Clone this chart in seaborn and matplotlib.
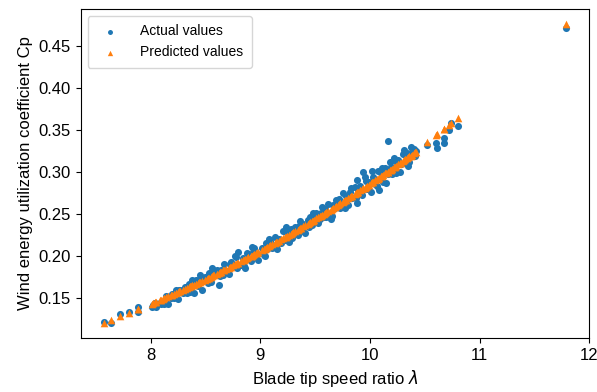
import matplotlib
matplotlib.use("Agg")
import matplotlib.pyplot as plt
import seaborn as sns
import pandas as pd

# Blade tip speed ratio (x) for every sample
lam = [
    7.57, 7.64, 7.72, 7.80, 7.88, 7.88,
    8.01, 8.02, 8.05, 8.08, 8.09,
    8.12, 8.14, 8.16, 8.18, 8.19,
    8.21, 8.23, 8.25, 8.27, 8.29,
    8.31, 8.33, 8.35, 8.37, 8.38, 8.39,
    8.41, 8.43, 8.45, 8.47, 8.49,
    8.51, 8.53, 8.55, 8.56, 8.58,
    8.60, 8.62, 8.64, 8.66, 8.67, 8.69,
    8.71, 8.73, 8.75, 8.77, 8.79,
    8.80, 8.82, 8.84, 8.86, 8.88, 8.89,
    8.91, 8.93, 8.94, 8.96, 8.98,
    9.01, 9.03, 9.05, 9.06, 9.08,
    9.11, 9.13, 9.15, 9.17, 9.19,
    9.21, 9.22, 9.24, 9.26, 9.28,
    9.30, 9.32, 9.34, 9.36, 9.37, 9.39,
    9.41, 9.43, 9.45, 9.47, 9.49,
    9.51, 9.53, 9.55, 9.56, 9.58,
    9.60, 9.62, 9.64, 9.66, 9.68, 9.69,
    9.71, 9.73, 9.75, 9.76, 9.78,
    9.80, 9.82, 9.84, 9.86, 9.88, 9.885, 9.89,
    9.91, 9.93, 9.94, 9.95, 9.97, 9.99,
    10.01, 10.03, 10.05, 10.07, 10.08,
    10.10, 10.12, 10.14, 10.16, 10.16, 10.18,
    10.20, 10.22, 10.24, 10.26, 10.28,
    10.30, 10.32, 10.34, 10.36, 10.38, 10.40, 10.42,
    8.04, 8.11, 8.26, 8.36, 8.44, 8.52, 8.57, 8.63, 8.72, 8.78,
    8.85, 8.92, 8.97, 9.04, 9.09, 9.14, 9.23, 9.29, 9.35, 9.44,
    9.48, 9.54, 9.59, 9.65, 9.72, 9.77, 9.83, 9.87, 9.96, 10.02,
    10.06, 10.11, 10.15, 10.19, 10.23, 10.27, 10.31, 10.35, 10.37, 10.41,
    10.52, 10.60, 10.61, 10.68, 10.68, 10.72, 10.74, 10.80,
    11.79,
]

# Actual wind energy utilization coefficient Cp
cp_actual = [
    0.1213, 0.1205, 0.1310, 0.1330, 0.1338, 0.1400,
    0.1396, 0.1421, 0.1398, 0.1445, 0.1430,
    0.1427, 0.1529, 0.1430, 0.1502, 0.1547,
    0.1499, 0.1591, 0.1493, 0.1595, 0.1556,
    0.1628, 0.1560, 0.1673, 0.1615, 0.1711, 0.1567,
    0.1719, 0.1642, 0.1774, 0.1596, 0.1749,
    0.1711, 0.1804, 0.1687, 0.1853, 0.1786,
    0.1829, 0.1652, 0.1835, 0.1779, 0.1905, 0.1818,
    0.1782, 0.1925, 0.1879, 0.2002, 0.1855,
    0.2052, 0.1896, 0.1980, 0.1863, 0.2037, 0.1964,
    0.1938, 0.2052, 0.2099, 0.2003, 0.1957,
    0.2098, 0.2013, 0.2158, 0.2085, 0.2209,
    0.2101, 0.2226, 0.2080, 0.2205, 0.2150,
    0.2295, 0.2192, 0.2277, 0.2173, 0.2328,
    0.2263, 0.2348, 0.2254, 0.2419, 0.2297, 0.2382,
    0.2278, 0.2424, 0.2470, 0.2365, 0.2451,
    0.2507, 0.2393, 0.2510, 0.2588, 0.2464,
    0.2470, 0.2616, 0.2443, 0.2609, 0.2566, 0.2664,
    0.2640, 0.2567, 0.2754, 0.2622, 0.2719,
    0.2606, 0.2763, 0.2690, 0.2827, 0.2634, 0.2905, 0.2783,
    0.2830, 0.2727, 0.3005, 0.2935, 0.2792, 0.2879,
    0.2767, 0.2945, 0.2853, 0.3010, 0.2789,
    0.2987, 0.2885, 0.3053, 0.2972, 0.3370, 0.3120,
    0.2978, 0.3166, 0.2984, 0.3142, 0.3091,
    0.3210, 0.3109, 0.3228, 0.3116, 0.3235, 0.3274, 0.3253,
    0.1442, 0.1442, 0.1599, 0.1569, 0.1718, 0.1678, 0.1830, 0.1769, 0.1908, 0.1989,
    0.1887, 0.2105, 0.2020, 0.2000, 0.2177, 0.2133, 0.2340, 0.2216, 0.2362, 0.2342,
    0.2513, 0.2441, 0.2562, 0.2481, 0.2679, 0.2571, 0.2812, 0.2696, 0.2893, 0.3006,
    0.2831, 0.3046, 0.2873, 0.3059, 0.3135, 0.3002, 0.3260, 0.3067, 0.3296, 0.3193,
    0.3320, 0.3340, 0.3290, 0.3347, 0.3400, 0.3498, 0.3577, 0.3545,
    0.4710,
]

# Predicted Cp
cp_pred = [
    0.1210, 0.1244, 0.1283, 0.1324, 0.1366, 0.1366,
    0.1436, 0.1441, 0.1458, 0.1475, 0.1480,
    0.1497, 0.1509, 0.1520, 0.1532, 0.1537,
    0.1549, 0.1561, 0.1573, 0.1585, 0.1596,
    0.1608, 0.1620, 0.1633, 0.1645, 0.1651, 0.1657,
    0.1669, 0.1682, 0.1694, 0.1706, 0.1719,
    0.1731, 0.1744, 0.1757, 0.1763, 0.1776,
    0.1789, 0.1802, 0.1815, 0.1829, 0.1835, 0.1848,
    0.1862, 0.1875, 0.1889, 0.1902, 0.1915,
    0.1922, 0.1936, 0.1950, 0.1963, 0.1977, 0.1984,
    0.1998, 0.2012, 0.2019, 0.2033, 0.2047,
    0.2068, 0.2083, 0.2098, 0.2105, 0.2119,
    0.2141, 0.2156, 0.2170, 0.2185, 0.2200,
    0.2215, 0.2222, 0.2237, 0.2253, 0.2268,
    0.2283, 0.2298, 0.2314, 0.2329, 0.2337, 0.2352,
    0.2368, 0.2384, 0.2400, 0.2415, 0.2431,
    0.2447, 0.2463, 0.2480, 0.2488, 0.2504,
    0.2520, 0.2536, 0.2553, 0.2569, 0.2586, 0.2594,
    0.2610, 0.2627, 0.2644, 0.2652, 0.2669,
    0.2686, 0.2703, 0.2720, 0.2737, 0.2754, 0.2758, 0.2763,
    0.2780, 0.2797, 0.2806, 0.2815, 0.2832, 0.2849,
    0.2867, 0.2885, 0.2903, 0.2920, 0.2929,
    0.2947, 0.2965, 0.2983, 0.3002, 0.3002, 0.3020,
    0.3038, 0.3056, 0.3074, 0.3092, 0.3111,
    0.3130, 0.3149, 0.3168, 0.3186, 0.3205, 0.3224, 0.3243,
    0.1452, 0.1492, 0.1579, 0.1639, 0.1688, 0.1738, 0.1770, 0.1809, 0.1868, 0.1909,
    0.1957, 0.2005, 0.2040, 0.2090, 0.2127, 0.2163, 0.2230, 0.2276, 0.2322, 0.2392,
    0.2423, 0.2471, 0.2512, 0.2561, 0.2619, 0.2661, 0.2712, 0.2746, 0.2823, 0.2876,
    0.2911, 0.2956, 0.2993, 0.3029, 0.3065, 0.3102, 0.3140, 0.3177, 0.3196, 0.3233,
    0.3355, 0.3440, 0.3450, 0.3515, 0.3515, 0.3555, 0.3577, 0.3636,
    0.4760,
]

labels = ["Actual values", "Predicted values"]
colors = ["#1f77b4", "#ff7f0e"]

df = pd.DataFrame({"lam": lam, "actual": cp_actual, "pred": cp_pred})

plt.rcParams["font.family"] = ["Liberation Sans", "DejaVu Sans"]
fig, ax = plt.subplots(figsize=(5.97, 3.92), dpi=100)
fig.subplots_adjust(left=0.135, right=0.987, bottom=0.138, top=0.977)

sns.scatterplot(data=df, x="lam", y="actual", ax=ax, color=colors[0],
                marker="o", s=26, linewidth=0, label=labels[0])
sns.scatterplot(data=df, x="lam", y="pred", ax=ax, color=colors[1],
                marker="^", s=30, linewidth=0, label=labels[1])

ax.set_xlabel(r"Blade tip speed ratio $\lambda$", fontsize=12)
ax.set_ylabel("Wind energy utilization coefficient Cp", fontsize=12)
ax.tick_params(labelsize=12)
ax.set_xticks([8, 9, 10, 11, 12])
ax.legend(loc="upper left", fontsize=10, borderpad=0.6, handletextpad=1.2,
          markerscale=0.7)

fig.savefig("out.png", dpi=100)
